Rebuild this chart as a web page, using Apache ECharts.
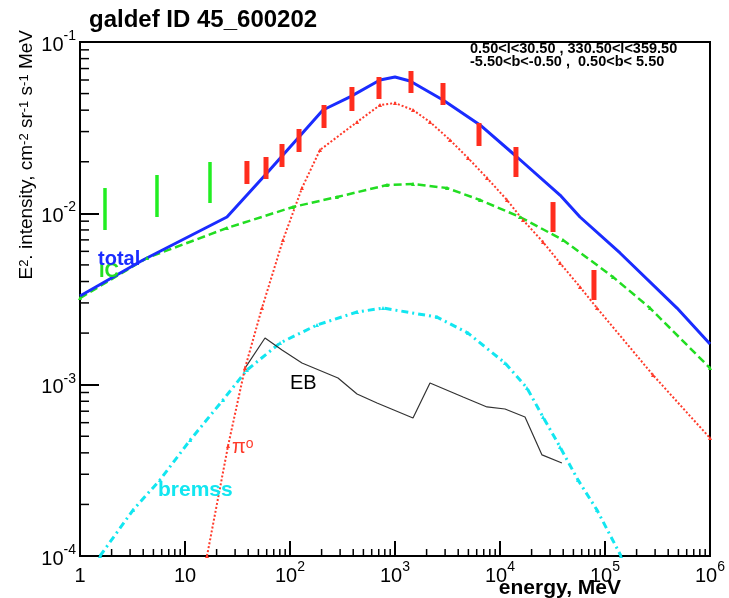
<!DOCTYPE html>
<html><head><meta charset="utf-8">
<script src="https://cdn.jsdelivr.net/npm/echarts@6/dist/echarts.min.js"></script>
<style>html,body{margin:0;padding:0;background:#fff}#c{width:729px;height:598px}</style>
</head><body><div id="c"></div>
<script>
// ---- axis ticks ----
const energyTicks = [1, 10, 100, 1000, 10000, 100000, 1000000];
const energyTickBase = ['1', '10', '10', '10', '10', '10', '10'];
const energyTickExp = ['', '', '2', '3', '4', '5', '6'];
const intensTicks = [1e-4, 1e-3, 1e-2, 1e-1];
const intensTickBase = ['10', '10', '10', '10'];
const intensTickExp = ['-4', '-3', '-2', '-1'];
const minorMantissas = [2, 3, 4, 5, 6, 7, 8, 9];

// ---- model curves (energy MeV, E^2 intensity) ----
const totalE = [1, 3.98, 25.1, 60.4, 206, 373, 720, 1000, 1389, 2865, 6450, 14520, 37270, 57780, 139000, 485000, 1000000];
const totalI = [3.29e-3, 5.34e-3, 9.52e-3, 0.01719, 0.0401, 0.0478, 0.0600, 0.0625, 0.0592, 0.0459, 0.0328, 0.02132, 0.01279, 9.52e-3, 5.87e-3, 2.80e-3, 1.727e-3];

const icE = [1, 4.35, 25.1, 106.8, 280, 839, 1484, 3128, 6450, 15490, 39810, 119200, 268300, 1000000];
const icI = [3.20e-3, 5.49e-3, 8.21e-3, 0.01089, 0.01245, 0.01463, 0.01483, 0.01405, 0.01196, 9.52e-3, 6.99e-3, 4.25e-3, 2.80e-3, 1.25e-3];

const pi0E = [16.2, 25.7, 37.3, 54.1, 85.8, 130, 193, 435, 720, 1000, 1484, 2154, 3340, 4956, 7516, 11660, 16560, 25700, 37270, 57780, 83900, 286400, 1000000];
const pi0I = [1e-4, 4.39e-4, 1.25e-3, 2.80e-3, 6.99e-3, 0.01405, 0.02343, 0.03412, 0.04288, 0.04406, 0.0401, 0.03412, 0.02679, 0.02104, 0.01608, 0.01196, 9.14e-3, 6.80e-3, 5.13e-3, 3.72e-3, 2.80e-3, 1.138e-3, 4.88e-4];

const bremssE = [1.55, 3.2, 5.78, 11.2, 23, 38.9, 80.3, 180.7, 435, 769, 2512, 4956, 11160, 18070, 25700, 37270, 55300, 83900, 142000];
const bremssI = [1e-4, 1.855e-4, 2.78e-4, 4.75e-4, 8.14e-4, 1.218e-3, 1.75e-3, 2.23e-3, 2.655e-3, 2.80e-3, 2.48e-3, 2.00e-3, 1.338e-3, 9.56e-4, 6.47e-4, 4.33e-4, 2.78e-4, 1.855e-4, 1e-4];

const ebE = [37.3, 57.8, 83.9, 130, 286.5, 435, 674, 1484, 2154, 4446, 7516, 11160, 17300, 25120, 38900];
const ebI = [1.25e-3, 1.873e-3, 1.593e-3, 1.338e-3, 1.094e-3, 8.82e-4, 7.82e-4, 6.39e-4, 1.023e-3, 8.47e-4, 7.41e-4, 7.21e-4, 6.47e-4, 3.89e-4, 3.49e-4];

// ---- data (error bars) ----
const greenE = [1.73, 5.41, 17.3];
const greenLo = [7.99e-3, 9.52e-3, 0.01149];
const greenHi = [0.01405, 0.01674, 0.01993];

const redE = [38.9, 59.1, 83.9, 121.9, 210.9, 389, 704, 1420, 2865, 6310, 14190, 31990, 78520];
const redLo = [0.01483, 0.01586, 0.01864, 0.0228, 0.03148, 0.03957, 0.04648, 0.05038, 0.04288, 0.02472, 0.01629, 7.78e-3, 3.12e-3];
const redHi = [0.0202, 0.02132, 0.02539, 0.03106, 0.04288, 0.05462, 0.06247, 0.06771, 0.05763, 0.03367, 0.02438, 0.01164, 4.67e-3];

// ---- build ----
const zip = (a, b) => a.map((v, i) => [v, b[i]]);
const zip3 = (a, b, c) => a.map((v, i) => [v, b[i], c[i]]);
const minorX = [];
energyTicks.slice(0, -1).forEach(d => minorMantissas.forEach(m => minorX.push([d * m, intensTicks[0]])));
const minorY = [];
intensTicks.slice(0, -1).forEach(d => minorMantissas.forEach(m => minorY.push([energyTicks[0], d * m])));

const FONT = '"Liberation Sans", Arial, Helvetica, sans-serif';
const labelRich = {
  b: { fontSize: 20, fontFamily: FONT, color: '#000', lineHeight: 26, verticalAlign: 'bottom' },
  s: { fontSize: 14, fontFamily: FONT, color: '#000', lineHeight: 14, verticalAlign: 'top' }
};
function tickFmt(ticks, base, exp) {
  return function (v) {
    let idx = 0, best = Infinity;
    ticks.forEach((t, i) => { const d = Math.abs(Math.log10(t) - Math.log10(v)); if (d < best) { best = d; idx = i; } });
    return exp[idx] ? '{b|' + base[idx] + '}{s|' + exp[idx] + '}' : '{b|' + base[idx] + '}';
  };
}

function errBar(color, width) {
  return function (params, api) {
    const p1 = api.coord([api.value(0), api.value(1)]);
    const p2 = api.coord([api.value(0), api.value(2)]);
    return { type: 'line', shape: { x1: p1[0], y1: p1[1], x2: p2[0], y2: p2[1] }, style: { stroke: color, lineWidth: width } };
  };
}

const chart = echarts.init(document.getElementById('c'), null, { renderer: 'canvas' });
chart.setOption({
  animation: false,
  backgroundColor: '#fff',
  title: {
    text: 'galdef ID 45_600202', left: 84, top: 3,
    textStyle: { fontFamily: FONT, fontSize: 24, fontWeight: 'bold', color: '#000' }
  },
  grid: { left: 80, top: 42, width: 630, height: 514, show: true, borderColor: '#000', borderWidth: 2, backgroundColor: 'transparent' },
  xAxis: {
    type: 'log', logBase: 10, min: 1, max: 1e6, splitNumber: 6,
    axisLine: { lineStyle: { color: '#000', width: 2 } },
    axisTick: { inside: true, length: 15, lineStyle: { color: '#000', width: 2 } },
    splitLine: { show: false },
    axisLabel: { margin: 4, formatter: tickFmt(energyTicks, energyTickBase, energyTickExp), rich: labelRich }
  },
  yAxis: {
    type: 'log', logBase: 10, min: 1e-4, max: 1e-1, splitNumber: 3,
    axisLine: { lineStyle: { color: '#000', width: 2 } },
    axisTick: { inside: true, length: 19, lineStyle: { color: '#000', width: 2 } },
    splitLine: { show: false },
    axisLabel: { margin: 4, formatter: tickFmt(intensTicks, intensTickBase, intensTickExp), rich: labelRich }
  },
  series: [
    { type: 'custom', name: 'minorX', data: minorX, silent: true, clip: false, z: 5,
      renderItem: (p, api) => { const c = api.coord([api.value(0), api.value(1)]); return { type: 'line', shape: { x1: c[0], y1: c[1], x2: c[0], y2: c[1] - 7 }, style: { stroke: '#000', lineWidth: 1.5 } }; } },
    { type: 'custom', name: 'minorY', data: minorY, silent: true, clip: false, z: 5,
      renderItem: (p, api) => { const c = api.coord([api.value(0), api.value(1)]); return { type: 'line', shape: { x1: c[0], y1: c[1], x2: c[0] + 9, y2: c[1] }, style: { stroke: '#000', lineWidth: 1.5 } }; } },
    { type: 'line', name: 'bremss', data: zip(bremssE, bremssI), showSymbol: true, symbol: 'triangle', symbolSize: 4,
      itemStyle: { color: '#12e6f0' }, lineStyle: { color: '#12e6f0', width: 3, type: [7, 4, 2, 4] } },
    { type: 'line', name: 'EB', data: zip(ebE, ebI), showSymbol: false, lineStyle: { color: '#333', width: 1.2 } },
    { type: 'line', name: 'pi0', data: zip(pi0E, pi0I), showSymbol: true, symbol: 'triangle', symbolSize: 4,
      itemStyle: { color: '#ff3a2a' }, lineStyle: { color: '#ff3a2a', width: 2, type: [2, 2] } },
    { type: 'line', name: 'IC', data: zip(icE, icI), showSymbol: true, symbol: 'triangle', symbolSize: 4,
      itemStyle: { color: '#22dd22' }, lineStyle: { color: '#22dd22', width: 2.5, type: [8, 4] } },
    { type: 'line', name: 'total', data: zip(totalE, totalI), showSymbol: false, lineStyle: { color: '#1a2cff', width: 3 } },
    { type: 'custom', name: 'dataLow', data: zip3(greenE, greenLo, greenHi), encode: { x: 0, y: [1, 2] }, renderItem: errBar('#22ee22', 3.5), z: 6 },
    { type: 'custom', name: 'dataHigh', data: zip3(redE, redLo, redHi), encode: { x: 0, y: [1, 2] }, renderItem: errBar('#ff2d1e', 5), z: 6 }
  ],
  graphic: [
    { type: 'text', x: 27, y: 30, rotation: Math.PI / 2,
      style: { text: 'E{s|2}. intensity, cm{s|-2} sr{s|-1} s{s|-1} MeV', textAlign: 'right', textVerticalAlign: 'middle', fill: '#000',
        font: '19px ' + FONT,
        rich: { s: { fontSize: 13, fontFamily: FONT, verticalAlign: 'top', lineHeight: 13, fill: '#000' } } } },
    { type: 'text', x: 621, y: 578,
      style: { text: 'energy, MeV', textAlign: 'right', textVerticalAlign: 'top', fill: '#000', font: 'bold 21px ' + FONT } },
    { type: 'text', x: 470, y: 43,
      style: { text: '0.50<l<30.50 , 330.50<l<359.50\n-5.50<b<-0.50 ,  0.50<b< 5.50', fill: '#000', font: 'bold 14.5px ' + FONT, lineHeight: 12.5, textVerticalAlign: 'top' } },
    { type: 'text', x: 99, y: 261, z: 10, style: { text: 'IC', fill: '#22dd22', font: 'bold 20px ' + FONT, textVerticalAlign: 'top' } },
    { type: 'text', x: 98, y: 249, z: 11, style: { text: 'total', fill: '#1a2cff', font: 'bold 20px ' + FONT, textVerticalAlign: 'top' } },
    { type: 'text', x: 232, y: 437, z: 10, style: { text: 'π{s|o}', fill: '#ff3a2a', font: '20px ' + FONT, textVerticalAlign: 'top',
        rich: { s: { fontSize: 14, fontFamily: FONT, verticalAlign: 'top', lineHeight: 14, fill: '#ff3a2a' } } } },
    { type: 'text', x: 290, y: 373, z: 10, style: { text: 'EB', fill: '#000', font: '20px ' + FONT, textVerticalAlign: 'top' } },
    { type: 'text', x: 158, y: 480, z: 10, style: { text: 'bremss', fill: '#12e6f0', font: 'bold 21px ' + FONT, textVerticalAlign: 'top' } }
  ]
});
</script></body></html>
